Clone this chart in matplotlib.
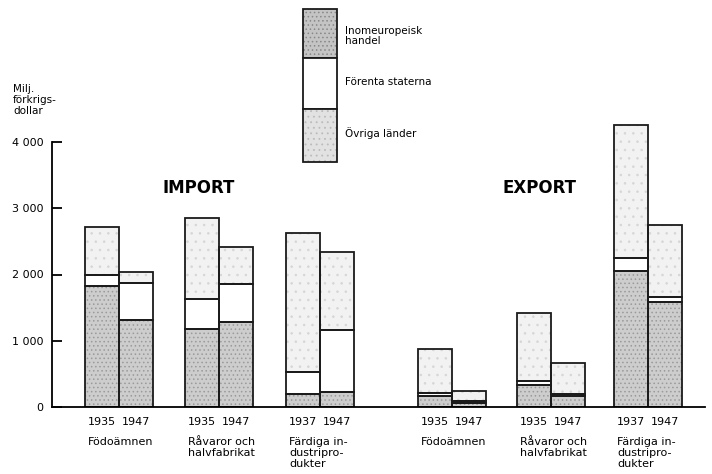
import matplotlib
matplotlib.use("Agg")
import matplotlib.pyplot as plt
from matplotlib.patches import Rectangle
from matplotlib.ticker import FuncFormatter

# ---------------- data (Milj. förkrigsdollar) ----------------
categories = ['Födoämnen', 'Råvaror och\nhalvfabrikat', 'Färdiga in-\ndustripro-\ndukter']
years = ['1935', '1947', '1935', '1947', '1937', '1947']

import_ovriga = [1825, 1315, 1180, 1285, 190, 230]
import_forenta = [165, 560, 455, 565, 335, 935]
import_inom = [720, 160, 1215, 570, 2105, 1170]

export_ovriga = [160, 60, 335, 165, 2060, 1590]
export_forenta = [50, 30, 55, 30, 190, 75]
export_inom = [670, 155, 1030, 475, 2000, 1085]

legend_labels = ['Inomeuropeisk\nhandel', 'Förenta staterna', 'Övriga länder']
yticks = [0, 1000, 2000, 3000, 4000]

# ---------------- styling ----------------
W, H = 712, 474
fig = plt.figure(figsize=(W / 100, H / 100), dpi=100)
plt.rcParams['hatch.linewidth'] = 0.6
FS = 8

ax_left, ax_right, ax_bottom_px, ymax = 52, 705, 407, 4400
px_per_unit = 66.25 / 1000
ax_top_px = ax_bottom_px - ymax * px_per_unit
ax = fig.add_axes([ax_left / W, (H - ax_bottom_px) / H,
                   (ax_right - ax_left) / W, (ax_bottom_px - ax_top_px) / H])
ax.set_xlim(ax_left, ax_right)
ax.set_ylim(0, ymax)

grey_dark = '#cdcdcd'
grey_light = '#f2f2f2'
bar_w = 34

def stacked(centers, ov, fs, ie):
    bottoms2 = [a + b for a, b in zip(ov, fs)]
    ax.bar(centers, ov, width=bar_w, color=grey_dark, edgecolor='#9a9a9a', hatch='....', linewidth=0)
    ax.bar(centers, fs, bottom=ov, width=bar_w, color='white', linewidth=0)
    ax.bar(centers, ie, bottom=bottoms2, width=bar_w, color=grey_light, edgecolor='#d6d6d6', hatch='..', linewidth=0)
    for vals, bots in ((ov, [0] * len(ov)), (fs, ov), (ie, bottoms2)):
        ax.bar(centers, vals, bottom=bots, width=bar_w, facecolor='none', edgecolor='#1a1a1a', linewidth=1.3)

import_groups = [119, 219, 320]
export_groups = [452, 551, 648]

def bar_centers(groups):
    out = []
    for g in groups:
        out += [g - bar_w / 2, g + bar_w / 2]
    return out

imp_c = bar_centers(import_groups)
exp_c = bar_centers(export_groups)
stacked(imp_c, import_ovriga, import_forenta, import_inom)
stacked(exp_c, export_ovriga, export_forenta, export_inom)

for s in ('top', 'right'):
    ax.spines[s].set_visible(False)
ax.spines['left'].set_bounds(0, 4000)
ax.spines['left'].set_linewidth(1.3)
ax.spines['bottom'].set_linewidth(1.3)
ax.set_yticks(yticks)
ax.yaxis.set_major_formatter(FuncFormatter(lambda v, p: f"{int(v):,}".replace(',', ' ')))
ax.tick_params(axis='y', direction='in', length=7.5, width=1.3, pad=6, labelsize=FS)
ax.set_xticks([])

for c, y in zip(imp_c + exp_c, years + years):
    ax.annotate(y, xy=(c, 0), xytext=(0, -15 * 0.72), textcoords='offset points',
                ha='center', va='center', fontsize=FS)
for g, cat in zip(import_groups + export_groups, categories + categories):
    ax.annotate(cat, xy=(g - bar_w + 3, 0), xytext=(0, -30 * 0.72), textcoords='offset points',
                ha='left', va='top', fontsize=FS, linespacing=1.1)

ax.text(199, 3300, 'IMPORT', ha='center', va='center', fontsize=12, fontweight='bold')
ax.text(540, 3300, 'EXPORT', ha='center', va='center', fontsize=12, fontweight='bold')

fig.text(13 / W, 1 - 84 / H, 'Milj.\nförkrigs-\ndollar', ha='left', va='top',
         fontsize=FS - 0.5, linespacing=1.1)

# legend (manual)
lx0, lx1 = 303, 337
bands = [(9, 58), (58, 109), (109, 162)]
styles = [dict(facecolor='#c4c4c4', hatch='....', edgecolor='#888888'),
          dict(facecolor='white'),
          dict(facecolor='#e2e2e2', hatch='...', edgecolor='#bbbbbb')]
for (t, b), st in zip(bands, styles):
    fig.add_artist(Rectangle((lx0 / W, 1 - b / H), (lx1 - lx0) / W, (b - t) / H,
                             transform=fig.transFigure, linewidth=0, **st))
    fig.add_artist(Rectangle((lx0 / W, 1 - b / H), (lx1 - lx0) / W, (b - t) / H,
                             transform=fig.transFigure, facecolor='none',
                             edgecolor='#1a1a1a', linewidth=1.3))
for lab, yc in zip(legend_labels, [36, 82, 133]):
    fig.text(345 / W, 1 - yc / H, lab, ha='left', va='center', fontsize=FS - 0.5, linespacing=1.1)

fig.savefig('out.png', dpi=100)
